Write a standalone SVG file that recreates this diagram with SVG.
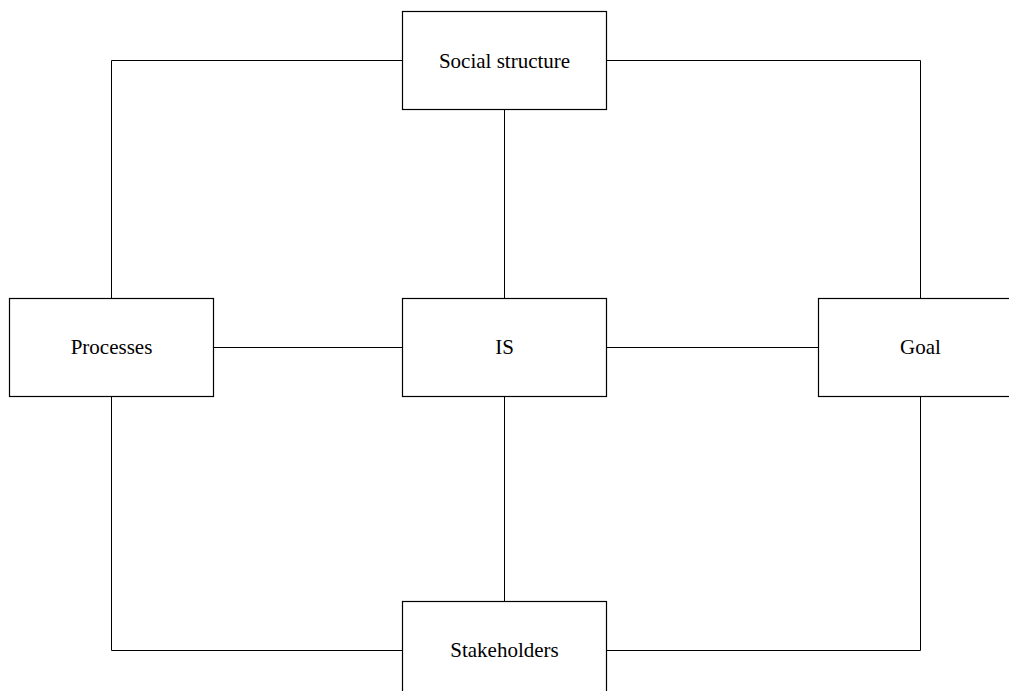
<svg xmlns="http://www.w3.org/2000/svg" width="1009" height="691" viewBox="0 0 1009 691">
  <style>
    .box { fill: #ffffff; stroke: #000000; stroke-width: 1.2; }
    .link { fill: none; stroke: #000000; stroke-width: 1; }
    .label { font-family: "Liberation Serif", "Times New Roman", serif; font-size: 21px; fill: #000000; text-anchor: middle; }
  </style>
  <rect width="1009" height="691" fill="#ffffff"/>

  <!-- connectors -->
  <g id="connectors">
    <polyline class="link" points="402.5,60.5 111.5,60.5 111.5,298.5"/>
    <polyline class="link" points="606.5,60.5 920.5,60.5 920.5,298.5"/>
    <line class="link" x1="504.5" y1="109" x2="504.5" y2="298"/>
    <line class="link" x1="213" y1="347.5" x2="402" y2="347.5"/>
    <line class="link" x1="607" y1="347.5" x2="818" y2="347.5"/>
    <line class="link" x1="504.5" y1="397" x2="504.5" y2="601"/>
    <polyline class="link" points="111.5,397 111.5,650.5 402,650.5"/>
    <polyline class="link" points="920.5,397 920.5,650.5 607,650.5"/>
  </g>

  <g id="node-social-structure">
    <rect class="box" x="402.5" y="11.5" width="204" height="98"/>
    <text class="label" x="504.5" y="68">Social structure</text>
  </g>

  <g id="node-processes">
    <rect class="box" x="9.5" y="298.5" width="204" height="98"/>
    <text class="label" x="111.5" y="354">Processes</text>
  </g>

  <g id="node-is">
    <rect class="box" x="402.5" y="298.5" width="204" height="98"/>
    <text class="label" x="504.5" y="354">IS</text>
  </g>

  <g id="node-goal">
    <rect class="box" x="818.5" y="298.5" width="204" height="98"/>
    <text class="label" x="920.5" y="354">Goal</text>
  </g>

  <g id="node-stakeholders">
    <rect class="box" x="402.5" y="601.5" width="204" height="98"/>
    <text class="label" x="504.5" y="657">Stakeholders</text>
  </g>
</svg>
